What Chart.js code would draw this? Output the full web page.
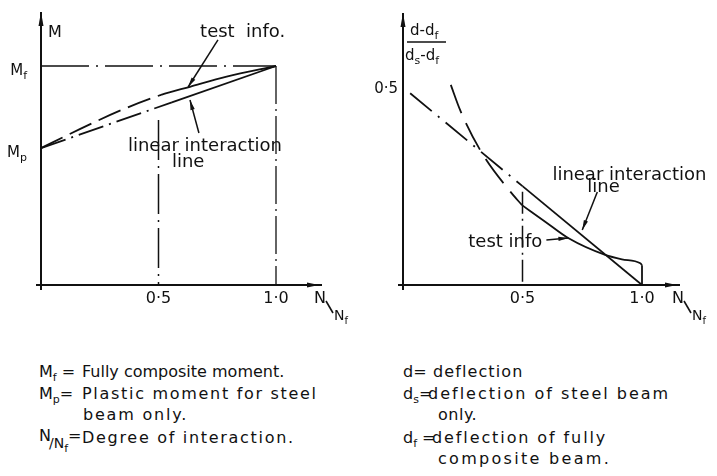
<!DOCTYPE html>
<html>
<head>
<meta charset="utf-8">
<script src="https://cdn.jsdelivr.net/npm/chart.js@4.4.1/dist/chart.umd.min.js"></script>
<style>
  html, body { margin: 0; padding: 0; background: #fff; }
  body {
    width: 717px; height: 476px; position: relative; overflow: hidden;
    font-family: "DejaVu Sans", sans-serif; color: #111;
  }
  canvas { position: absolute; top: 0; }
  #momentChart { left: 0; }
  #deflectionChart { left: 360px; }
  .note { position: absolute; font-size: 16px; line-height: 16px; white-space: nowrap; }
  .note sub { font-size: 11px; vertical-align: -4px; line-height: 0; }
  .note .under { position: relative; top: 7px; font-size: 14px; margin-left: -2px; }
</style>
</head>
<body>
<canvas id="momentChart" width="360" height="330"></canvas>
<canvas id="deflectionChart" width="357" height="330"></canvas>

<div class="note" style="left:39px; top:364px">M<sub>f</sub> =</div>
<div class="note" style="left:82px; top:364px">Fully composite moment.</div>
<div class="note" style="left:39px; top:386px">M<sub>p</sub>=</div>
<div class="note" style="left:82px; top:386px; letter-spacing:1.7px">Plastic moment for steel</div>
<div class="note" style="left:83px; top:407px; letter-spacing:1.8px">beam only.</div>
<div class="note" style="left:39px; top:428px">N<span class="under">/N<sub>f</sub></span>=</div>
<div class="note" style="left:82px; top:430px; letter-spacing:1.7px">Degree of interaction.</div>

<div class="note" style="left:403px; top:364px">d=</div>
<div class="note" style="left:433px; top:364px; letter-spacing:1.1px">deflection</div>
<div class="note" style="left:403px; top:386px">d<sub>s</sub>=</div>
<div class="note" style="left:428px; top:386px; letter-spacing:2px">deflection of steel beam</div>
<div class="note" style="left:438px; top:407px; letter-spacing:0.5px">only.</div>
<div class="note" style="left:403px; top:430px">d<sub>f</sub> =</div>
<div class="note" style="left:432px; top:430px; letter-spacing:1.9px">deflection of fully</div>
<div class="note" style="left:438px; top:451px; letter-spacing:2.3px">composite beam.</div>

<script>
const INK = "#111";
const FONT = '"DejaVu Sans", sans-serif';

// degree of interaction N/Nf, ticks shared by both panels
const INTERACTION_TICKS = [0.5, 1.0];
const INTERACTION_TICK_LABELS = ["0·5", "1·0"];

// moment panel, M in units of the fully composite moment Mf
const MOMENT_TICKS = [1.0, 0.625]; // Mf, Mp
const MOMENT_TICK_LABELS = [["M", "f"], ["M", "p"]];
const MOMENT_LINEAR_X = [0, 0.557, 1.0];
const MOMENT_LINEAR_Y = [0.625, 0.834, 1.0];
const MOMENT_TEST_X = [0, 0.129, 0.342, 0.511, 0.634, 0.79, 1.0];
const MOMENT_TEST_Y = [0.625, 0.693, 0.799, 0.868, 0.905, 0.951, 1.0];
const MOMENT_GUIDE_TOP = [0.753, 1.0]; // vertical guides at 0.5 and 1.0

// deflection panel, (d - df) / (ds - df)
const DEFL_TICKS = [0.5];
const DEFL_TICK_LABELS = ["0·5"];
const DEFL_LINEAR_X = [0.03, 0.5, 1.0];
const DEFL_LINEAR_Y = [0.485, 0.25, 0];
const DEFL_TEST_EXT_X = [0.2, 0.24, 0.331, 0.449, 0.498];
const DEFL_TEST_EXT_Y = [0.506, 0.441, 0.333, 0.236, 0.202];
const DEFL_TEST_X = [0.498, 0.595, 0.693, 0.846, 0.916, 0.993, 1.0];
const DEFL_TEST_Y = [0.202, 0.16, 0.118, 0.076, 0.065, 0.055, 0.05];
const DEFL_GUIDE_TOP = [0.236, 0.05];

const DASH = [24, 8];
const DASH_DOT = [26, 6, 2, 6];
const CHAIN = [48, 7, 2, 7];

function pts(xs, ys) {
  return xs.map((x, i) => ({ x, y: ys[i] }));
}

function line(data, extra) {
  return Object.assign(
    {
      data,
      borderColor: INK,
      borderWidth: 1.8,
      borderDash: [],
      pointRadius: 0,
      fill: false,
      tension: 0,
    },
    extra
  );
}

// dashed up to `until`, solid after it
function dashedUntil(until, dash) {
  return {
    borderDash: (ctx) => (ctx.p0.parsed.x < until - 1e-9 ? dash : []),
  };
}

function runFont(run, size) {
  return `${run[1] === "sub" ? Math.round(size * 0.7) : size}px ${FONT}`;
}

// runs like [["M"], ["f", "sub"]], drawn left to right
function drawRuns(ctx, runs, x, y, size, align) {
  let width = 0;
  runs.forEach((r) => {
    ctx.font = runFont(r, size);
    width += ctx.measureText(r[0]).width;
  });
  let cx = align === "center" ? x - width / 2 : align === "right" ? x - width : x;
  ctx.textAlign = "left";
  ctx.textBaseline = "alphabetic";
  runs.forEach((r) => {
    ctx.font = runFont(r, size);
    ctx.fillText(r[0], cx, r[1] === "sub" ? y + size * 0.28 : y);
    cx += ctx.measureText(r[0]).width;
  });
}

function drawArrow(ctx, x1, y1, x2, y2, head, half) {
  ctx.beginPath();
  ctx.moveTo(x1, y1);
  ctx.lineTo(x2, y2);
  ctx.stroke();
  const a = Math.atan2(y2 - y1, x2 - x1);
  const bx = x2 - head * Math.cos(a);
  const by = y2 - head * Math.sin(a);
  ctx.beginPath();
  ctx.moveTo(x2, y2);
  ctx.lineTo(bx + half * Math.sin(a), by - half * Math.cos(a));
  ctx.lineTo(bx - half * Math.sin(a), by + half * Math.cos(a));
  ctx.closePath();
  ctx.fill();
}

function drawAxes(chart) {
  const { ctx, chartArea: area, scales } = chart;
  const x0 = scales.x.getPixelForValue(0);
  const y0 = scales.y.getPixelForValue(0);
  ctx.save();
  ctx.strokeStyle = INK;
  ctx.fillStyle = INK;
  ctx.lineWidth = 2;
  ctx.beginPath();
  ctx.moveTo(x0 - 5, y0);
  ctx.lineTo(area.right, y0);
  ctx.moveTo(x0, y0 + 5);
  ctx.lineTo(x0, area.top);
  ctx.stroke();
  drawArrow(ctx, area.right - 16, y0, area.right - 3, y0, 12, 2.5);
  drawArrow(ctx, x0, area.top + 16, x0, area.top, 14, 2.5);
  ctx.restore();
}

// N/Nf at the end of the horizontal axis
function drawInteractionTitle(ctx, xEnd, y0) {
  drawRuns(ctx, [["N"]], xEnd - 8, y0 + 18, 16, "left");
  ctx.lineWidth = 1.6;
  ctx.beginPath();
  ctx.moveTo(xEnd + 4, y0 + 16);
  ctx.lineTo(xEnd + 11, y0 + 28);
  ctx.stroke();
  drawRuns(ctx, [["N"], ["f", "sub"]], xEnd + 12, y0 + 35, 14, "left");
}

function panelPlugin(spec) {
  return {
    id: "panelSketch",
    beforeDatasetsDraw(chart) {
      drawAxes(chart);
    },
    afterDatasetsDraw(chart) {
      const { ctx, chartArea: area, scales } = chart;
      const px = (v) => scales.x.getPixelForValue(v);
      const py = (v) => scales.y.getPixelForValue(v);
      const x0 = px(0);
      const y0 = py(0);
      ctx.save();
      ctx.fillStyle = INK;
      ctx.strokeStyle = INK;

      INTERACTION_TICKS.forEach((v, i) => {
        drawRuns(ctx, [[INTERACTION_TICK_LABELS[i]]], px(v), y0 + 18, 16, "center");
      });
      spec.yTicks.forEach((v, i) => {
        const label = spec.yTickLabels[i];
        const runs = Array.isArray(label) ? [[label[0]], [label[1], "sub"]] : [[label]];
        drawRuns(ctx, runs, x0 - spec.yTickGap, py(v) + spec.yTickDrop, 15, "right");
      });
      drawInteractionTitle(ctx, area.right, y0);

      spec.notes.forEach((n) => {
        drawRuns(ctx, [[n.text]], px(n.x), py(n.y), n.size, "left");
      });
      ctx.lineWidth = 1.5;
      spec.arrows.forEach((a) => {
        drawArrow(ctx, px(a[0]), py(a[1]), px(a[2]), py(a[3]), 10, 2.2);
      });
      if (spec.title) spec.title(ctx, x0, area.top);
      ctx.restore();
    },
  };
}

function makePanel(canvasId, datasets, padding, xMax, yMax, spec) {
  return new Chart(document.getElementById(canvasId), {
    type: "line",
    data: { datasets },
    options: {
      responsive: false,
      animation: false,
      events: [],
      layout: { padding },
      scales: {
        x: { type: "linear", min: 0, max: xMax, display: false },
        y: { type: "linear", min: 0, max: yMax, display: false },
      },
      plugins: { legend: { display: false }, tooltip: { enabled: false } },
    },
    plugins: [panelPlugin(spec)],
  });
}

// moment against degree of interaction
makePanel(
  "momentChart",
  [
    line(pts([0, INTERACTION_TICKS[1]], [MOMENT_TICKS[0], MOMENT_TICKS[0]]), { borderDash: CHAIN, borderWidth: 1.5 }),
    line(pts([INTERACTION_TICKS[0], INTERACTION_TICKS[0]], [MOMENT_GUIDE_TOP[0], 0]), { borderDash: [40, 6, 2, 6], borderWidth: 1.5 }),
    line(pts([INTERACTION_TICKS[1], INTERACTION_TICKS[1]], [MOMENT_GUIDE_TOP[1], 0]), { borderDash: [38, 5, 2, 5], borderWidth: 1.3 }),
    line(pts(MOMENT_LINEAR_X, MOMENT_LINEAR_Y), { segment: dashedUntil(MOMENT_LINEAR_X[1], DASH_DOT) }),
    line(pts(MOMENT_TEST_X, MOMENT_TEST_Y), {
      cubicInterpolationMode: "monotone",
      segment: dashedUntil(MOMENT_TEST_X[3], DASH),
    }),
  ],
  { left: 41, top: 12, right: 38, bottom: 45 },
  281 / 235,
  273 / 219,
  {
    yTicks: MOMENT_TICKS,
    yTickLabels: MOMENT_TICK_LABELS,
    yTickGap: 14,
    yTickDrop: 9,
    notes: [
      { text: "M", x: 0.03, y: 1.132, size: 16 },
      { text: "test  info.", x: 0.677, y: 1.132, size: 18 },
      { text: "linear interaction", x: 0.37, y: 0.612, size: 18 },
      { text: "line", x: 0.557, y: 0.539, size: 18 },
    ],
    arrows: [
      [0.753, 1.119, 0.626, 0.904],
      [0.672, 0.694, 0.634, 0.845],
    ],
  }
);

// relative deflection against degree of interaction
makePanel(
  "deflectionChart",
  [
    line(pts([INTERACTION_TICKS[0], INTERACTION_TICKS[0]], [DEFL_GUIDE_TOP[0], 0]), { borderDash: [22, 5, 2, 5], borderWidth: 1.5 }),
    line(pts([INTERACTION_TICKS[1], INTERACTION_TICKS[1]], [DEFL_GUIDE_TOP[1], 0])),
    line(pts(DEFL_LINEAR_X, DEFL_LINEAR_Y), { segment: dashedUntil(DEFL_LINEAR_X[1], [28, 8, 2, 8]) }),
    line(pts(DEFL_TEST_EXT_X, DEFL_TEST_EXT_Y), { borderDash: [30, 11], cubicInterpolationMode: "monotone" }),
    line(pts(DEFL_TEST_X, DEFL_TEST_Y), { cubicInterpolationMode: "monotone" }),
  ],
  { left: 43, top: 13, right: 37, bottom: 45 },
  277 / 239,
  272 / 395.4,
  {
    yTicks: DEFL_TICKS,
    yTickLabels: DEFL_TICK_LABELS,
    yTickGap: 5,
    yTickDrop: 6,
    notes: [
      { text: "linear interaction", x: 0.625, y: 0.266, size: 18 },
      { text: "line", x: 0.771, y: 0.235, size: 18 },
      { text: "test info", x: 0.273, y: 0.096, size: 18 },
    ],
    arrows: [
      [0.813, 0.235, 0.75, 0.139],
      [0.6, 0.114, 0.692, 0.119],
    ],
    // (d - df) / (ds - df) beside the vertical axis
    title(ctx, x0, top) {
      drawRuns(ctx, [["d-d"], ["f", "sub"]], x0 + 7, top + 22, 15, "left");
      ctx.lineWidth = 1.4;
      ctx.beginPath();
      ctx.moveTo(x0 + 4, top + 29);
      ctx.lineTo(x0 + 43, top + 29);
      ctx.stroke();
      drawRuns(ctx, [["d"], ["s", "sub"], ["-d"], ["f", "sub"]], x0 + 2, top + 47, 15, "left");
    },
  }
);
</script>
</body>
</html>
